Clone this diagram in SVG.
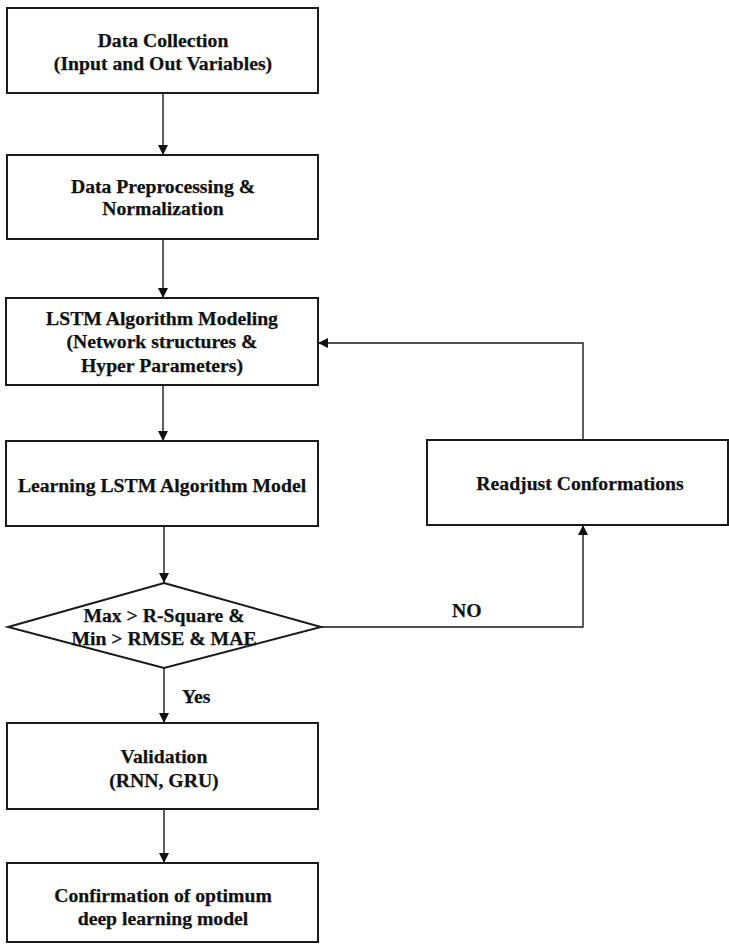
<svg xmlns="http://www.w3.org/2000/svg" width="729" height="946" viewBox="0 0 729 946">
  <defs>
    <marker id="arrow" markerWidth="10" markerHeight="10" refX="10" refY="5" orient="auto" markerUnits="userSpaceOnUse">
      <path d="M0,0 L10,5 L0,10 Z" fill="#111"/>
    </marker>
    <style>
      .box { fill: #fff; stroke: #1a1a1a; stroke-width: 2; }
      .conn { fill: none; stroke: #1a1a1a; stroke-width: 1.4; }
      .lbl { font-family: "Liberation Serif", "Times New Roman", serif; font-weight: bold; font-size: 19.7px; fill: #111; stroke: #111; stroke-width: 0.25; text-anchor: middle; }
      .tag { font-family: "Liberation Serif", "Times New Roman", serif; font-weight: bold; font-size: 19.7px; fill: #111; stroke: #111; stroke-width: 0.25; }
    </style>
  </defs>
  <rect width="729" height="946" fill="#fff"/>

  <!-- connectors -->
  <g id="connectors">
    <line class="conn" x1="163" y1="93" x2="163" y2="155" marker-end="url(#arrow)"/>
    <line class="conn" x1="163" y1="239" x2="163" y2="298" marker-end="url(#arrow)"/>
    <line class="conn" x1="163" y1="385" x2="163" y2="441" marker-end="url(#arrow)"/>
    <line class="conn" x1="164" y1="526" x2="164" y2="583" marker-end="url(#arrow)"/>
    <line class="conn" x1="164" y1="668" x2="164" y2="723" marker-end="url(#arrow)"/>
    <line class="conn" x1="164" y1="809" x2="164" y2="863" marker-end="url(#arrow)"/>
    <!-- NO branch: diamond to readjust box -->
    <polyline class="conn" points="321,627 583,627 583,525" marker-end="url(#arrow)"/>
    <!-- feedback loop back into the modeling step -->
    <polyline class="conn" points="583,440 583,343 318,343" marker-end="url(#arrow)"/>
    <text class="tag" x="452" y="617">NO</text>
    <text class="tag" x="182" y="703">Yes</text>
  </g>

  <g id="data-collection">
    <rect class="box" x="7" y="8" width="311" height="85"/>
    <text class="lbl" x="163" y="47">Data Collection</text>
    <text class="lbl" x="163" y="70">(Input and Out Variables)</text>
  </g>

  <g id="preprocessing">
    <rect class="box" x="7" y="155" width="311" height="84"/>
    <text class="lbl" x="163" y="193">Data Preprocessing &amp;</text>
    <text class="lbl" x="163" y="215">Normalization</text>
  </g>

  <g id="lstm-modeling">
    <rect class="box" x="6" y="298" width="312" height="87"/>
    <text class="lbl" x="162" y="325">LSTM Algorithm Modeling</text>
    <text class="lbl" x="162" y="348">(Network structures &amp;</text>
    <text class="lbl" x="162" y="372">Hyper Parameters)</text>
  </g>

  <g id="learning">
    <rect class="box" x="6" y="441" width="312" height="85"/>
    <text class="lbl" x="162" y="492">Learning LSTM Algorithm Model</text>
  </g>

  <g id="decision">
    <polygon class="box" points="164,583 321,627 164,668 8,627"/>
    <text class="lbl" x="164" y="622">Max &gt; R-Square &amp;</text>
    <text class="lbl" x="164" y="645">Min &gt; RMSE &amp; MAE</text>
  </g>

  <g id="readjust">
    <rect class="box" x="427" y="440" width="301" height="85"/>
    <text class="lbl" x="580" y="490">Readjust Conformations</text>
  </g>

  <g id="validation">
    <rect class="box" x="7" y="723" width="311" height="86"/>
    <text class="lbl" x="164" y="763">Validation</text>
    <text class="lbl" x="164" y="787">(RNN, GRU)</text>
  </g>

  <g id="confirmation">
    <rect class="box" x="7" y="863" width="311" height="79"/>
    <text class="lbl" x="163" y="902">Confirmation of optimum</text>
    <text class="lbl" x="163" y="925">deep learning model</text>
  </g>
</svg>
